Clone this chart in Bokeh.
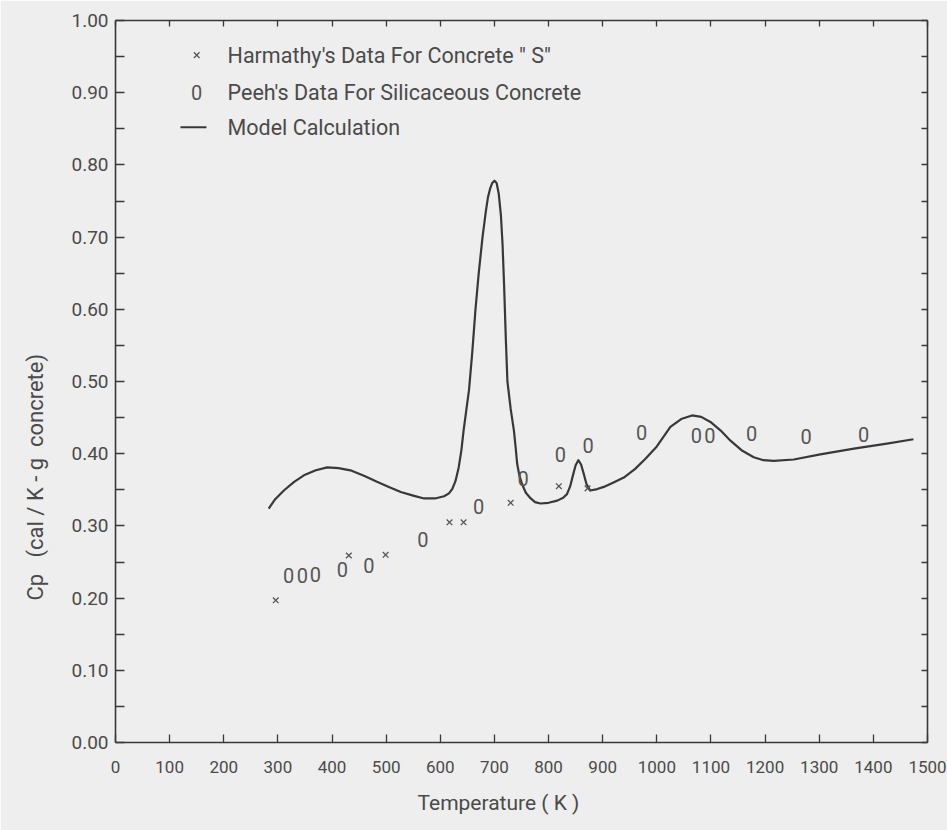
from bokeh.plotting import figure
from bokeh.models import LinearAxis, FixedTicker, Range1d, Label, Title, CustomJSTickFormatter
from bokeh.core.properties import value
from bokeh.embed import file_html
from bokeh.resources import INLINE

# ---- data ----
model_T = [283, 295, 311, 330, 348, 370, 391, 412, 434, 460, 483, 505, 527, 550, 570, 590,
           607, 616, 622, 628, 634, 639, 643, 648, 653, 659, 665, 671, 678, 684, 688, 692,
           696, 700, 704, 708, 712, 715, 718, 721, 724, 730, 736, 739, 742, 746, 751, 758,
           767, 775, 785, 800, 816, 827, 834, 840, 845, 850, 855, 860, 865, 870, 877, 890,
           902, 920, 939, 960, 979, 1000, 1025, 1045, 1065, 1082, 1099, 1118, 1136, 1158,
           1179, 1197, 1216, 1253, 1302, 1364, 1425, 1474]
model_cp = [0.324, 0.337, 0.349, 0.361, 0.370, 0.377, 0.381, 0.380, 0.377, 0.369, 0.361,
            0.354, 0.347, 0.342, 0.338, 0.338, 0.341, 0.345, 0.351, 0.362, 0.381, 0.405,
            0.432, 0.460, 0.488, 0.540, 0.600, 0.650, 0.700, 0.735, 0.755, 0.767, 0.775,
            0.778, 0.775, 0.760, 0.730, 0.690, 0.630, 0.560, 0.500, 0.462, 0.432, 0.410,
            0.386, 0.370, 0.358, 0.346, 0.338, 0.333, 0.331, 0.332, 0.335, 0.339, 0.344,
            0.355, 0.370, 0.384, 0.391, 0.385, 0.372, 0.358, 0.349, 0.351, 0.354, 0.360,
            0.367, 0.379, 0.393, 0.410, 0.437, 0.448, 0.453, 0.451, 0.444, 0.432, 0.418,
            0.404, 0.395, 0.391, 0.390, 0.392, 0.399, 0.407, 0.414, 0.420]

harmathy_T = [296, 431, 499, 617, 643, 730, 819, 872]
harmathy_cp = [0.197, 0.259, 0.260, 0.305, 0.305, 0.332, 0.355, 0.352]

peeh_T = [320, 345, 369, 419, 468, 568, 671, 753, 822, 873, 972, 1073, 1098, 1175, 1276, 1382]
peeh_cp = [0.231, 0.231, 0.233, 0.240, 0.245, 0.281, 0.327, 0.365, 0.399, 0.411, 0.430,
           0.425, 0.425, 0.428, 0.424, 0.426]

x_ticks = list(range(0, 1501, 100))
y_ticks = [0.0, 0.1, 0.2, 0.3, 0.4, 0.5, 0.6, 0.7, 0.8, 0.9, 1.0]
y_tick_labels = ["0.00", "0.10", "0.20", "0.30", "0.40", "0.50", "0.60", "0.70", "0.80", "0.90", "1.00"]
y_minor = [0.05, 0.15, 0.25, 0.35, 0.45, 0.55, 0.65, 0.75, 0.85, 0.95]

legend_labels = ["Harmathy's Data For Concrete \" S\"",
                 "Peeh's Data For Silicaceous Concrete",
                 "Model Calculation"]
x_title = "Temperature ( K )"
y_title = "Cp\u00a0\u00a0\u00a0(cal / K - g\u00a0\u00a0concrete)"

FONT = "Roboto"
INK = "#383838"
TXT = "#4a4a4a"
BG = "#eeeeee"

p = figure(width=947, height=830, x_range=Range1d(0, 1500), y_range=Range1d(0, 1.0),
           output_backend="svg", toolbar_location=None,
           x_axis_type=None, y_axis_type=None,
           min_border_left=115, min_border_right=20, min_border_top=20, min_border_bottom=88)
p.background_fill_color = BG
p.border_fill_color = BG
p.outline_line_color = None
p.xgrid.visible = False
p.ygrid.visible = False

blank = CustomJSTickFormatter(code="return ''")

def style(ax, tin):
    ax.axis_line_color = INK
    ax.axis_line_width = 1.6
    ax.major_tick_line_color = INK
    ax.minor_tick_line_color = INK
    ax.major_tick_line_width = 1.3
    ax.minor_tick_line_width = 1.3
    ax.major_tick_in = tin
    ax.major_tick_out = 0
    ax.minor_tick_in = tin
    ax.minor_tick_out = 0
    ax.major_label_text_font = FONT
    ax.major_label_text_color = TXT

xb = LinearAxis(ticker=FixedTicker(ticks=x_ticks))
style(xb, 8)
xb.major_label_text_font_size = "17px"
xb.major_label_standoff = 18
p.add_layout(xb, "below")

yl = LinearAxis(ticker=FixedTicker(ticks=y_ticks, minor_ticks=y_minor))
style(yl, 9)
yl.major_label_text_font_size = "19px"
yl.major_label_standoff = 7
yl.major_label_overrides = {i / 10: lab for i, lab in enumerate(y_tick_labels)}
p.add_layout(yl, "left")

xt = LinearAxis(ticker=FixedTicker(ticks=x_ticks), formatter=blank)
style(xt, 6)
p.add_layout(xt, "above")

yr = LinearAxis(ticker=FixedTicker(ticks=y_ticks, minor_ticks=y_minor), formatter=blank)
style(yr, 6)
p.add_layout(yr, "right")

# axis titles as side-panel titles
p.add_layout(Title(text=x_title, align="left", offset=302, standoff=28, vertical_align="middle",
                   text_font=FONT, text_font_size="21px", text_font_style="normal",
                   text_color=TXT), "below")
p.add_layout(Title(text=y_title, align="left", offset=142, standoff=40, vertical_align="middle",
                   text_font=FONT, text_font_size="22px", text_font_style="normal",
                   text_color=TXT), "left")

# model curve
p.line(model_T, model_cp, line_color=INK, line_width=2.2, line_join="round")

# Harmathy data (x marks)
p.scatter(harmathy_T, harmathy_cp, marker="x", size=8, line_color="#555555", line_width=1.3)

# Peeh data ("0" characters)
p.text(peeh_T, peeh_cp, text=["0"] * len(peeh_T), text_align="center", text_baseline="middle",
       text_font=value(FONT), text_font_size="20px", text_color="#555555")

# legend (drawn by hand, as in the reference)
p.scatter([150], [0.952], marker="x", size=8, line_color="#555555", line_width=1.3)
p.text([150], [0.90], text=["0"], text_align="center", text_baseline="middle",
       text_font=value(FONT), text_font_size="20px", text_color="#555555")
p.line([120, 168], [0.852, 0.852], line_color=INK, line_width=2)
for yy, lab in zip([0.952, 0.90, 0.852], legend_labels):
    p.add_layout(Label(x=207, y=yy, text=lab, text_align="left", text_baseline="middle",
                       text_font=FONT, text_font_size="21.5px", text_color=TXT))

open("out.html", "w").write(file_html(p, INLINE))
